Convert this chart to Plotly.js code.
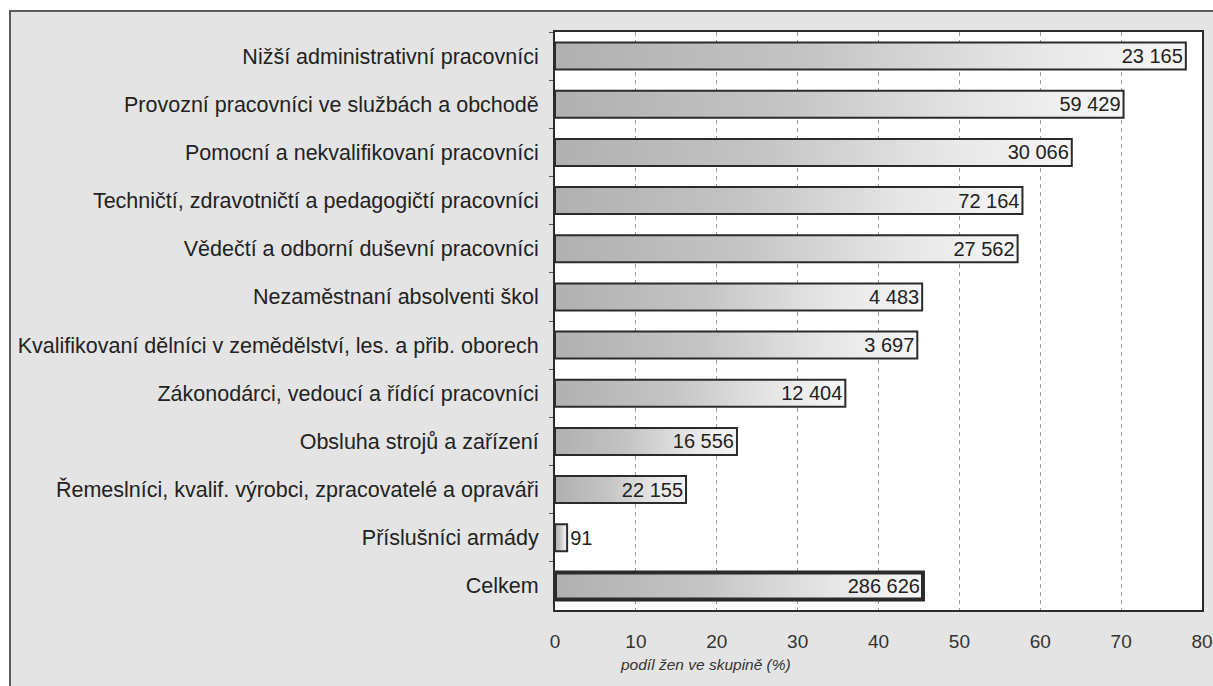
<!DOCTYPE html>
<html>
<head>
<meta charset="utf-8">
<script src="https://cdn.plot.ly/plotly-3.0.1.min.js"></script>
<style>
html,body{margin:0;padding:0;background:#ffffff;overflow:hidden;width:1213px;height:686px;}
#frame{position:absolute;left:9px;top:10px;border:2px solid #5a5a5a;width:1210px;height:680px;background:#e4e4e4;}
#chart{width:1210px;height:680px;}
</style>
</head>
<body>
<div id="frame"><div id="chart"></div></div>
<script>
const categories = [
  "Nižší administrativní pracovníci",
  "Provozní pracovníci ve službách a obchodě",
  "Pomocní a nekvalifikovaní pracovníci",
  "Techničtí, zdravotničtí a pedagogičtí pracovníci",
  "Vědečtí a odborní duševní pracovníci",
  "Nezaměstnaní absolventi škol",
  "Kvalifikovaní dělníci v zemědělství, les. a přib. oborech",
  "Zákonodárci, vedoucí a řídící pracovníci",
  "Obsluha strojů a zařízení",
  "Řemeslníci, kvalif. výrobci, zpracovatelé a opraváři",
  "Příslušníci armády",
  "Celkem"
];
const sharePct = [78.0, 70.3, 63.9, 57.8, 57.2, 45.4, 44.8, 35.9, 22.5, 16.2, 1.5, 45.5];
const womenCount = [23165, 59429, 30066, 72164, 27562, 4483, 3697, 12404, 16556, 22155, 91, 286626];
const xTicks = [0, 10, 20, 30, 40, 50, 60, 70, 80];

function fmt(n){ return String(n).replace(/\B(?=(\d{3})+(?!\d))/g, " "); }

const labels = womenCount.map(fmt);
const textPos = sharePct.map(v => v < 5 ? "outside" : "inside");
const lineW = categories.map(c => c === "Celkem" ? 4 : 2);

const trace = {
  type: "bar",
  orientation: "h",
  y: categories,
  x: sharePct,
  text: labels,
  textposition: textPos,
  insidetextanchor: "end",
  constraintext: "none",
  cliponaxis: false,
  textfont: {family: "Liberation Sans, Arial, sans-serif", size: 20, color: "#222"},
  marker: {color: "#cccccc", line: {color: "#2b2b2b", width: lineW}},
  hoverinfo: "none"
};

const layout = {
  width: 1210,
  height: 680,
  margin: {l: 544, r: 19, t: 20, b: 82},
  paper_bgcolor: "#e4e4e4",
  plot_bgcolor: "#ffffff",
  bargap: 0.44,
  showlegend: false,
  font: {family: "Liberation Sans, Arial, sans-serif", size: 17, color: "#222"},
  xaxis: {
    range: [0, 80],
    tickvals: xTicks,
    ticktext: xTicks.map(String),
    showgrid: true,
    gridcolor: "#9a9a9a",
    gridwidth: 1,
    griddash: "4px,4px",
    zeroline: false,
    showline: true,
    linecolor: "#2b2b2b",
    linewidth: 2,
    mirror: true,
    ticks: "",
    ticklabelstandoff: 13,
    tickfont: {size: 19, color: "#333"}
  },
  yaxis: {
    type: "category",
    autorange: "reversed",
    showline: true,
    linecolor: "#2b2b2b",
    linewidth: 2,
    mirror: true,
    ticks: "outside",
    tickson: "boundaries",
    ticklen: 4,
    tickcolor: "#555",
    ticklabelstandoff: 10,
    showgrid: false,
    tickfont: {size: 21.5, color: "#222"}
  },
  annotations: [{
    xref: "paper", yref: "paper",
    x: 0.232, y: -0.095,
    xanchor: "center", yanchor: "middle",
    showarrow: false,
    text: "<i>podíl žen ve skupině (%)</i>",
    font: {size: 15.5, color: "#333"}
  }]
};

Plotly.newPlot("chart", [trace], layout, {displayModeBar: false, staticPlot: true}).then(gd => {
  const svg = gd.querySelector("svg.main-svg");
  const ns = "http://www.w3.org/2000/svg";
  let defs = svg.querySelector("defs");
  if (!defs) { defs = document.createElementNS(ns, "defs"); svg.insertBefore(defs, svg.firstChild); }
  const grad = document.createElementNS(ns, "linearGradient");
  grad.setAttribute("id", "barGrad");
  grad.setAttribute("x1", "0"); grad.setAttribute("y1", "0");
  grad.setAttribute("x2", "1"); grad.setAttribute("y2", "0");
  [["0", "#b0b0b0"], ["0.4", "#c4c4c4"], ["0.75", "#e6e6e6"], ["1", "#f6f6f6"]].forEach(([o, c]) => {
    const s = document.createElementNS(ns, "stop");
    s.setAttribute("offset", o); s.setAttribute("stop-color", c);
    grad.appendChild(s);
  });
  defs.appendChild(grad);
  gd.querySelectorAll(".barlayer .point path").forEach(p => { p.style.fill = "url(#barGrad)"; });
});
</script>
</body>
</html>
